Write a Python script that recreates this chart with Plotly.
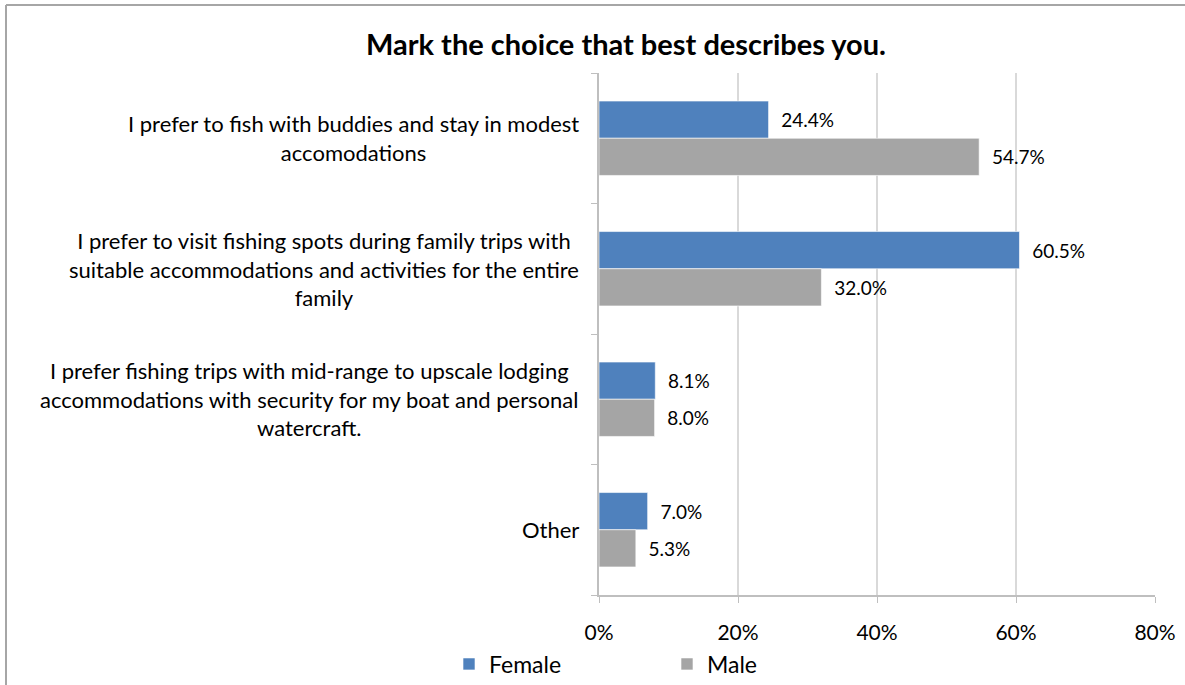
import plotly.graph_objects as go

# Survey answers, listed top to bottom
categories = [
    "I prefer to fish with buddies and stay in modest<br>accomodations",
    "I prefer to visit fishing spots during family trips with<br>suitable accommodations and activities for the entire<br>family",
    "I prefer fishing trips with mid-range to upscale lodging<br>accommodations with security for my boat and personal<br>watercraft.",
    "Other",
]
series_names = ["Female", "Male"]
female = [0.244, 0.605, 0.081, 0.070]
male = [0.547, 0.320, 0.080, 0.053]
x_ticks = [0, 0.2, 0.4, 0.6, 0.8]
x_tick_labels = ["0%", "20%", "40%", "60%", "80%"]
title_text = "Mark the choice that best describes you."

FONT = "Lato"
W, H = 1185, 685
L, R, T, B = 599, 30, 73, 90
pw, ph = W - L - R, H - T - B

fig = go.Figure()
for name, vals, color in [
    (series_names[0], female, "#4F81BD"),
    (series_names[1], male, "#A5A5A5"),
]:
    fig.add_trace(go.Bar(
        name=name,
        y=list(range(len(categories))),
        x=vals,
        orientation="h",
        marker=dict(color=color, line=dict(color="rgba(255,255,255,0.6)", width=1)),
        text=["\u00a0\u00a0" + f"{v*100:.1f}%" for v in vals],
        textposition="outside",
        textfont=dict(family=FONT, size=19, color="#000000"),
        cliponaxis=False,
    ))

# Category labels: right-aligned blocks, lines centred within each block
for i, cat in enumerate(categories):
    fig.add_annotation(
        x=-(L - 581) / pw, xref="paper", xanchor="right",
        y=i, yref="y", yanchor="middle",
        text=cat, align="center", showarrow=False,
        font=dict(family=FONT, size=22, color="#000000"),
    )

# Outer chart frame (top and left edges fall inside the page)
frame = dict(color="#A6A6A6", width=2)
fig.add_shape(type="line", xref="paper", yref="paper",
              x0=(6 - L) / pw, x1=(W - L) / pw,
              y0=(H - B - 5) / ph, y1=(H - B - 5) / ph, line=frame)
fig.add_shape(type="line", xref="paper", yref="paper",
              x0=(6 - L) / pw, x1=(6 - L) / pw,
              y0=(H - B - 5) / ph, y1=(H - B - H) / ph, line=frame)

fig.update_layout(
    width=W, height=H,
    margin=dict(l=L, r=R, t=T, b=B, autoexpand=False),
    paper_bgcolor="white", plot_bgcolor="white",
    barmode="group", bargap=0.43, bargroupgap=0,
    title=dict(
        text=f"<b>{title_text}</b>", x=626 / W, xanchor="center",
        y=1 - 45 / H, yanchor="middle", yref="container",
        font=dict(family=FONT, size=29, color="#000000"),
    ),
    font=dict(family=FONT, color="#000000"),
    showlegend=True,
    legend=dict(
        orientation="h", x=(449 - L) / pw, xanchor="left",
        y=-(664 - (H - B)) / ph, yanchor="middle",
        font=dict(family=FONT, size=23, color="#000000"),
        entrywidth=173, entrywidthmode="pixels",
        traceorder="normal",
    ),
    xaxis=dict(
        range=[0, 0.8], tickvals=x_ticks, ticktext=x_tick_labels,
        showgrid=True, gridcolor="#D9D9D9", gridwidth=1.5,
        zeroline=False, showline=True, linecolor="#BFBFBF", linewidth=1.5,
        ticks="outside", ticklen=6, tickcolor="#BFBFBF",
        tickfont=dict(family=FONT, size=21, color="#000000"),
        ticklabelstandoff=12,
        fixedrange=True,
    ),
    yaxis=dict(
        type="linear", range=[len(categories) - 0.5, -0.5],
        tickvals=[i - 0.5 for i in range(len(categories) + 1)],
        showticklabels=False,
        showgrid=False, zeroline=False,
        showline=True, linecolor="#BFBFBF", linewidth=1.5,
        ticks="outside", ticklen=6, tickcolor="#BFBFBF",
        fixedrange=True,
    ),
)

fig.write_html("out.html")
